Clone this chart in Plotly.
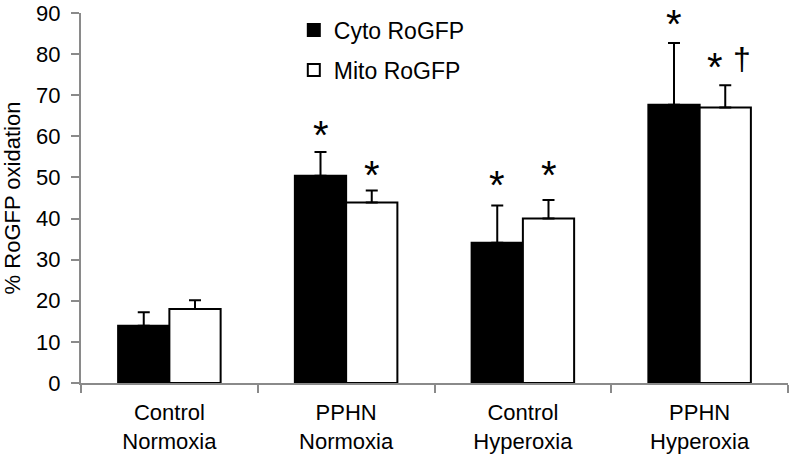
import plotly.graph_objects as go

# data
categories = ["Control<br>Normoxia", "PPHN<br>Normoxia", "Control<br>Hyperoxia", "PPHN<br>Hyperoxia"]
cyto_values = [13.9, 50.4, 34.1, 67.7]
cyto_err = [3.3, 5.8, 9.1, 15.0]
mito_values = [18.0, 43.9, 40.0, 67.0]
mito_err = [2.1, 2.9, 4.5, 5.4]

# significance marks: (category index offset, y value, text)
marks_x = [0.855, 1.145, 1.855, 2.145, 2.855, 3.085, 3.24]
marks_y = [61.5, 51.8, 49.5, 51.8, 88.6, 78.1, 78.8]
marks_text = ["*", "*", "*", "*", "*", "*", "†"]

FONT = "Liberation Sans, Arial, sans-serif"
AXIS_GREY = "#8a8a8a"

fig = go.Figure()

fig.add_trace(go.Bar(
    x=categories, y=cyto_values, name="Cyto RoGFP",
    legendgroup="cyto",
    marker=dict(color="black", line=dict(color="black", width=2)),
    error_y=dict(type="data", array=cyto_err, arrayminus=[0]*4, symmetric=False,
                 color="black", thickness=2, width=6),
))
fig.add_trace(go.Bar(
    x=categories, y=mito_values, name="Mito RoGFP",
    legendgroup="mito",
    marker=dict(color="white", line=dict(color="black", width=2)),
    error_y=dict(type="data", array=mito_err, arrayminus=[0]*4, symmetric=False,
                 color="black", thickness=2, width=6),
))

# asterisks and dagger
for mx, my, mt in zip(marks_x, marks_y, marks_text):
    fig.add_annotation(
        x=mx, y=my, text=mt, showarrow=False,
        xref="x", yref="y",
        yanchor="middle",
        yshift=-5 if mt == "*" else 0,
        font=dict(family=FONT, size=40 if mt == "*" else 32, color="black"),
    )

fig.update_layout(
    width=792, height=458,
    margin=dict(l=81, r=4, t=13, b=75),
    plot_bgcolor="white", paper_bgcolor="white",
    barmode="group", bargap=0.42, bargroupgap=0,
    font=dict(family=FONT, size=22, color="black"),
    legend=dict(
        x=0.301, y=1.012, xanchor="left", yanchor="top",
        traceorder="grouped", tracegroupgap=7,
        itemwidth=30,
        font=dict(family=FONT, size=23, color="black"),
        bgcolor="rgba(0,0,0,0)",
    ),
    showlegend=True,
)

fig.update_yaxes(
    range=[0, 90], dtick=10, automargin=False,
    showgrid=False, zeroline=False,
    showline=True, linecolor=AXIS_GREY, linewidth=2,
    ticks="outside", ticklen=8, tickcolor=AXIS_GREY, tickwidth=2,
    ticklabelstandoff=6,
    tickfont=dict(family=FONT, size=22, color="black"),
    title=dict(text="% RoGFP oxidation", font=dict(family=FONT, size=22, color="black"), standoff=10),
)
fig.update_xaxes(
    showgrid=False, zeroline=False, automargin=False,
    showline=True, linecolor=AXIS_GREY, linewidth=2,
    ticks="outside", ticklen=8, tickcolor=AXIS_GREY, tickwidth=2,
    tickson="boundaries", ticklabelstandoff=9,
    tickfont=dict(family=FONT, size=22, color="black"),
)

# the page's default body margin would push the 792x458 figure off the window
fig.write_html("out.html", config={"displayModeBar": False},
               post_script="document.body.style.margin='0';")
